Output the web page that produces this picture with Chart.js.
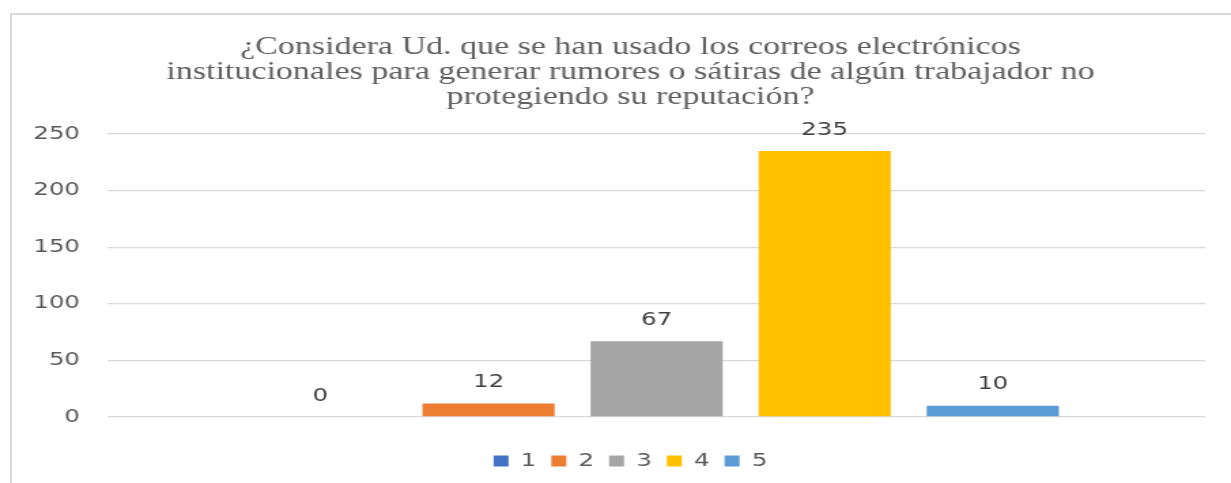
<!DOCTYPE html>
<html>
<head>
<meta charset="utf-8">
<script src="https://cdn.jsdelivr.net/npm/chart.js@4.4.1/dist/chart.umd.min.js"></script>
<style>
    html, body { margin: 0; padding: 0; background: #fff; overflow: hidden; }
    #marco {
        position: absolute; left: 10px; top: 13px; width: 1400px; height: 600px;
        border-left: 2px solid #d9d9d9; border-top: 2px solid #d9d9d9;
    }
    #grafico { position: absolute; left: 0; top: 0; }
</style>
</head>
<body>
<div id="marco"></div>
<canvas id="grafico" width="905" height="483" style="width:1231px;height:483px"></canvas>
<script>
// datos
var categorias = [''];
var respuestas = ['1', '2', '3', '4', '5'];
var cantidades = [0, 12, 67, 235, 10];
var colores = ['#4472C4', '#ED7D31', '#A5A5A5', '#FFC000', '#5B9BD5'];
var tituloLineas = [
    '¿Considera Ud. que se han usado los correos electrónicos',
    'institucionales para generar rumores o sátiras de algún trabajador no',
    'protegiendo su reputación?'
];
var ejeMin = 0, ejeMax = 250, ejePaso = 50;

// etiquetas de valor encima de cada barra
var etiquetasPlugin = {
    id: 'etiquetasValor',
    afterDatasetsDraw: function (chart) {
        var ctx = chart.ctx;
        ctx.save();
        ctx.font = '18px "DejaVu Sans"';
        ctx.fillStyle = '#404040';
        ctx.textAlign = 'center';
        ctx.textBaseline = 'middle';
        chart.data.datasets.forEach(function (ds, i) {
            var meta = chart.getDatasetMeta(i);
            meta.data.forEach(function (bar, j) {
                ctx.fillText(ds.data[j], bar.x, bar.y - 21);
            });
        });
        ctx.restore();
    }
};

var datasets = respuestas.map(function (r, i) {
    return {
        label: r,
        data: [cantidades[i]],
        backgroundColor: colores[i],
        borderWidth: 0,
        categoryPercentage: 0.766,
        barPercentage: 0.786
    };
});

var ctx = document.getElementById('grafico').getContext('2d');
var _grafico = new Chart(ctx, {
    type: 'bar',
    data: {
        labels: categorias,
        datasets: datasets
    },
    options: {
        responsive: false,
        devicePixelRatio: 1,
        animation: false,
        layout: { padding: { left: 41, right: 19, top: 0, bottom: 3 } },
        plugins: {
            title: {
                display: true,
                text: tituloLineas,
                color: '#606060',
                font: { family: '"Liberation Serif"', size: 25, weight: 'normal', lineHeight: 1 },
                padding: { top: 34.5, bottom: 24.5 }
            },
            legend: {
                position: 'bottom',
                labels: {
                    color: '#595959',
                    font: { family: '"DejaVu Sans"', size: 18 },
                    boxWidth: 11,
                    boxHeight: 11,
                    padding: 11
                }
            },
            tooltip: { enabled: false }
        },
        scales: {
            x: {
                grid: { display: false },
                border: { display: false },
                ticks: { display: false },
                afterFit: function (scale) { scale.height = 24; }
            },
            y: {
                min: ejeMin,
                max: ejeMax,
                grid: { color: '#d9d9d9', lineWidth: 1.3, drawTicks: false },
                border: { display: false },
                ticks: {
                    stepSize: ejePaso,
                    color: '#595959',
                    padding: 20.6,
                    font: { family: '"DejaVu Sans"', size: 18 }
                },
                afterFit: function (scale) {
                    scale.width = 38.4;
                    // las etiquetas salen del ancho del eje, no recortar
                    scale._computeLabelArea = function () { return undefined; };
                }
            }
        }
    },
    plugins: [etiquetasPlugin]
});
</script>
</body>
</html>
